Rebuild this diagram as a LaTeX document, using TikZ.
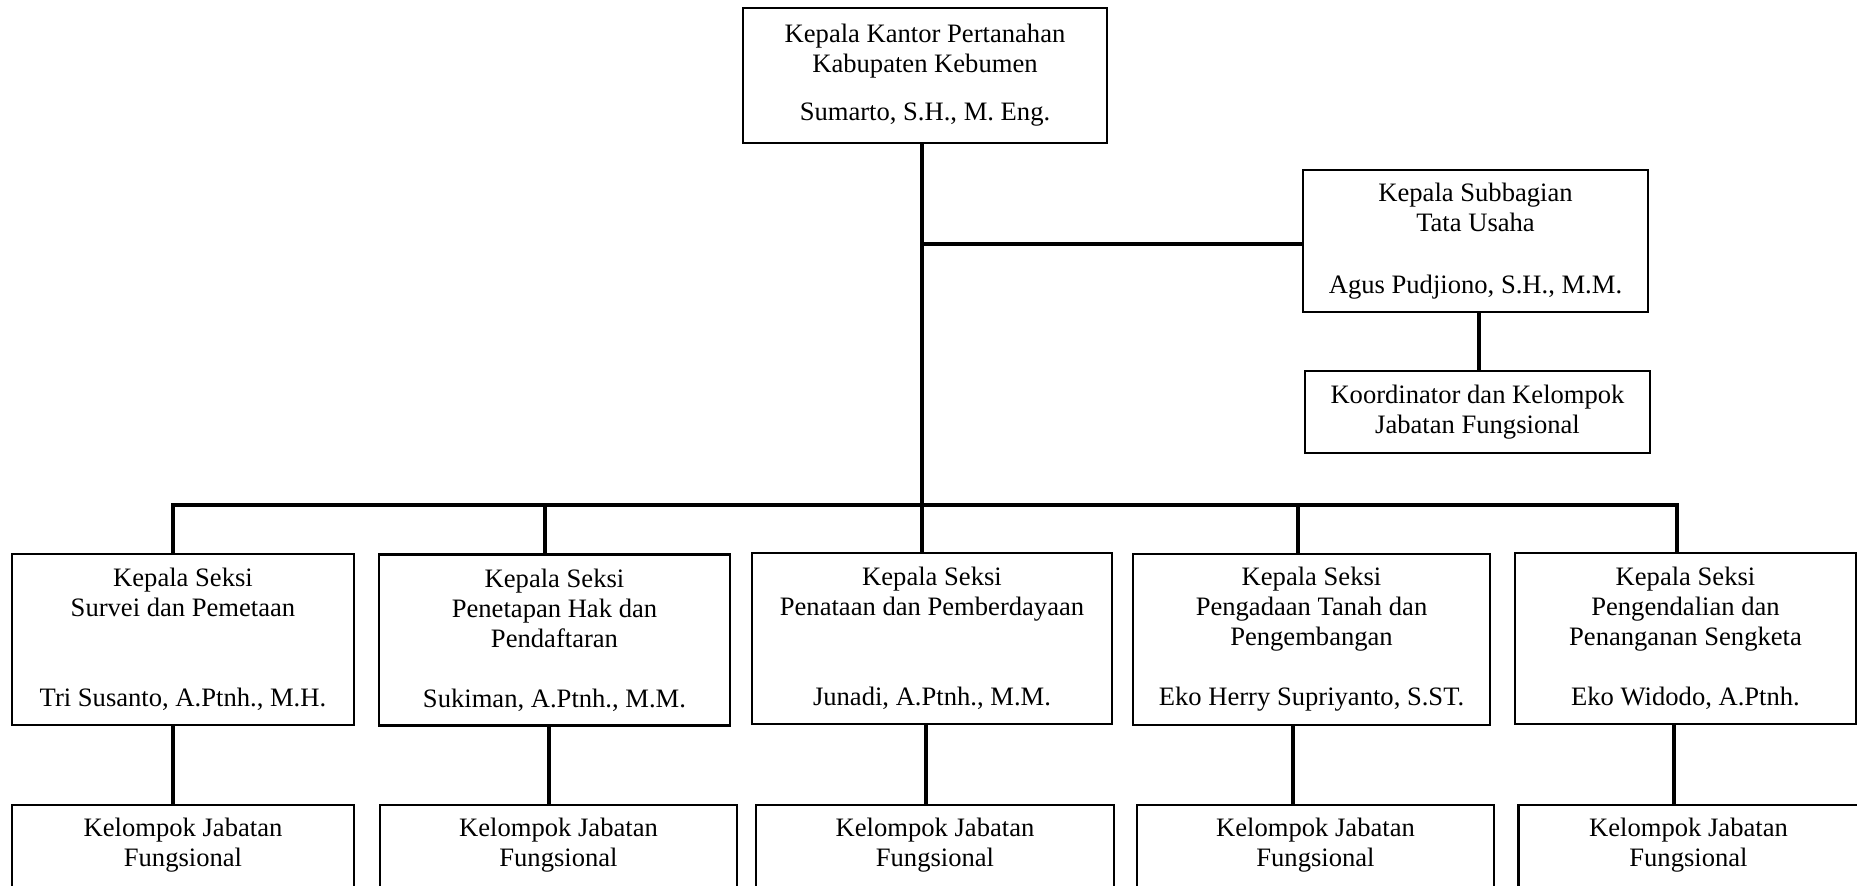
\documentclass[tikz,border=0pt]{standalone}
\usepackage{fontspec}
\setmainfont{Liberation Serif}
\tikzset{
  kotak/.style={draw, line width=1.1pt, align=center, inner sep=0pt, font=\fontsize{13.3}{15}\selectfont},
  seksi/.style={kotak, minimum height=85.5pt},
  kelompok/.style={kotak, anchor=north, inner ysep=6.5pt},
  garis/.style={line width=1.6pt},
}
\newcommand{\kjf}{\parbox[t][60pt][t]{150pt}{\centering Kelompok Jabatan\\ Fungsional}}

\begin{document}
\begin{tikzpicture}[line join=miter,x=0.5pt,y=-0.5pt]
		\useasboundingbox (0,0) rectangle (1857,885);
		\clip (0,0) rectangle (1857,885);
		% pimpinan
		\node[kotak, minimum width=182pt, minimum height=67.5pt] (kepala) at (925,75.5) {Kepala Kantor Pertanahan\\ Kabupaten Kebumen\\[9pt] Sumarto, S.H., M. Eng.};
		\node[kotak, minimum width=172.5pt, minimum height=71pt] (subbag) at (1475.5,241) {Kepala Subbagian\\ Tata Usaha\\[16pt] Agus Pudjiono, S.H., M.M.};
		\node[kotak, minimum width=172.5pt, minimum height=41pt] (koord) at (1477.5,412) {Koordinator dan Kelompok\\ Jabatan Fungsional};
		% seksi
		\node[seksi, minimum width=171pt] (seksi1) at (183,639.5) {Kepala Seksi\\ Survei dan Pemetaan\\[30pt] Tri Susanto, A.Ptnh., M.H.};
		\node[seksi, minimum width=175.5pt] (seksi2) at (554.5,640) {Kepala Seksi\\ Penetapan Hak dan\\ Pendaftaran\\[15pt] Sukiman, A.Ptnh., M.M.};
		\node[seksi, minimum width=180pt] (seksi3) at (932,638.5) {Kepala Seksi\\ Penataan dan Pemberdayaan\\[30pt] Junadi, A.Ptnh., M.M.};
		\node[seksi, minimum width=178.5pt] (seksi4) at (1311.5,639.5) {Kepala Seksi\\ Pengadaan Tanah dan\\ Pengembangan\\[15pt] Eko Herry Supriyanto, S.ST.};
		\node[seksi, minimum width=170.5pt] (seksi5) at (1685.5,638.5) {Kepala Seksi\\ Pengendalian dan\\ Penanganan Sengketa\\[15pt] Eko Widodo, A.Ptnh.};
		% kelompok jabatan fungsional
		\node[kelompok, minimum width=171pt] (kel1) at (183,804) {\kjf};
		\node[kelompok, minimum width=178.5pt] (kel2) at (558.5,804) {\kjf};
		\node[kelompok, minimum width=179pt] (kel3) at (935,804) {\kjf};
		\node[kelompok, minimum width=178.5pt] (kel4) at (1315.5,804) {\kjf};
		\node[kelompok, minimum width=170pt] (kel5) at (1688.5,804) {\kjf};
		% garis
		\coordinate (bus) at (0,505);
		\coordinate (tengah) at ([xshift=-1.5pt]kepala.south);
		\coordinate (masuk) at ([yshift=-1.5pt]subbag.west);
		\draw[garis] (tengah) -- (tengah |- seksi3.north);
		\draw[garis] (tengah |- masuk) -- (masuk);
		\draw[garis] ([xshift=1.75pt]subbag.south) -- ([xshift=1.75pt]subbag.south |- koord.north);
		\draw[garis] ([xshift=-5pt]seksi1.north) |- ([xshift=-4.25pt]seksi5.north |- bus) -- ([xshift=-4.25pt]seksi5.north);
		\draw[garis] ([xshift=-4.75pt]seksi2.north) -- ([xshift=-4.75pt]seksi2.north |- bus);
		\draw[garis] ([xshift=-6.75pt]seksi4.north) -- ([xshift=-6.75pt]seksi4.north |- bus);
		\draw[garis] ([xshift=-5pt]seksi1.south) -- ([xshift=-5pt]seksi1.south |- kel1.north);
		\draw[garis] ([xshift=-2.75pt]seksi2.south) -- ([xshift=-2.75pt]seksi2.south |- kel2.north);
		\draw[garis] ([xshift=-3pt]seksi3.south) -- ([xshift=-3pt]seksi3.south |- kel3.north);
		\draw[garis] ([xshift=-9.25pt]seksi4.south) -- ([xshift=-9.25pt]seksi4.south |- kel4.north);
		\draw[garis] ([xshift=-5.75pt]seksi5.south) -- ([xshift=-5.75pt]seksi5.south |- kel5.north);
\end{tikzpicture}
\end{document}
